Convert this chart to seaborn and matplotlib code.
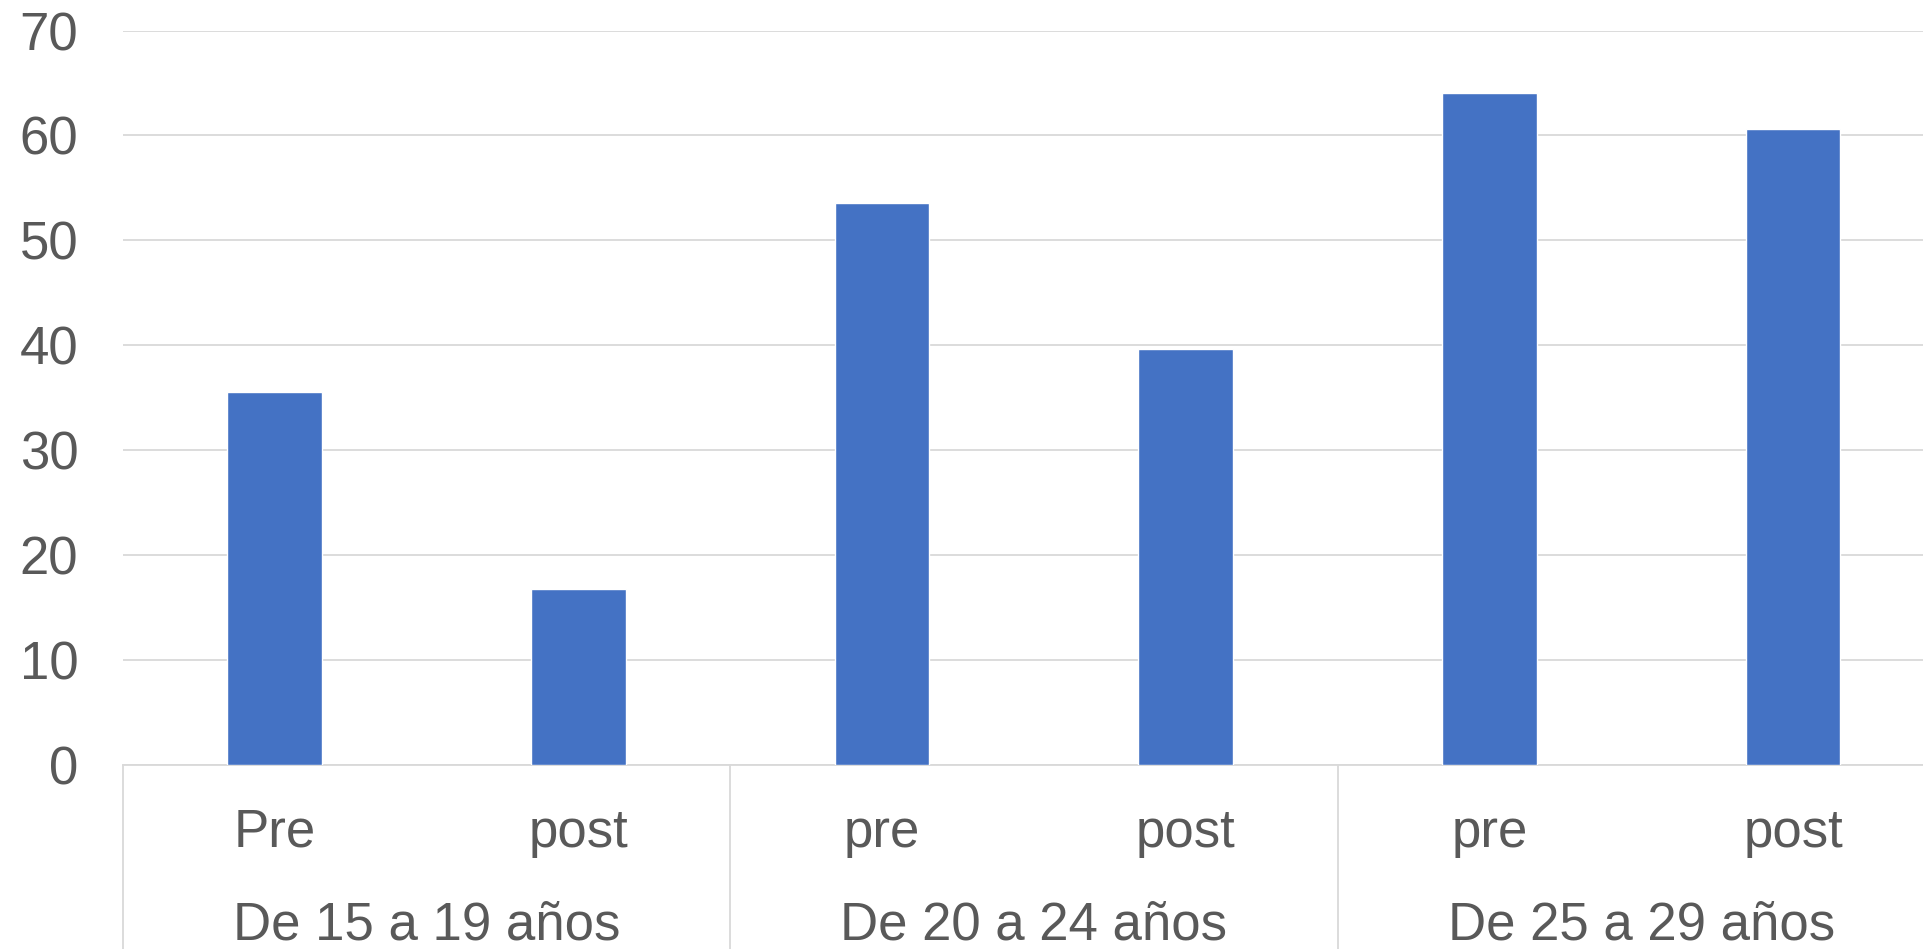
import matplotlib
matplotlib.use("Agg")
import matplotlib.pyplot as plt
import matplotlib.transforms as mtransforms
import seaborn as sns
import pandas as pd

# data
age_groups = ["De 15 a 19 años", "De 20 a 24 años", "De 25 a 29 años"]
phases = ["Pre", "post", "pre", "post", "pre", "post"]
values = [35.5, 16.7, 53.6, 39.6, 64.1, 60.6]
y_ticks = [0, 10, 20, 30, 40, 50, 60, 70]

BAR_COLOR = "#4472C4"
GRID_COLOR = "#D9D9D9"
TEXT_COLOR = "#595959"
FONT_SIZE = 38

sns.set_theme(style="white")
plt.rcParams["font.family"] = ["Liberation Sans", "DejaVu Sans"]

slots = [f"{age_groups[i // 2]}|{p}" for i, p in enumerate(phases)]
df = pd.DataFrame({"slot": slots, "value": values})

fig = plt.figure(figsize=(19.24, 9.49), dpi=100)
# axes runs past the right edge, the reference is cropped there
ax = fig.add_axes([0.0638, 0.1944, 0.9471, 0.7733])

sns.barplot(data=df, x="slot", y="value", order=slots, color=BAR_COLOR,
            width=0.312, saturation=1, ax=ax, zorder=3)

ax.set_xlim(-0.5, len(slots) - 0.5)
ax.set_ylim(0, 70)
ax.set_yticks(y_ticks)
ax.yaxis.grid(True, color=GRID_COLOR, linewidth=1.3, zorder=0)
ax.xaxis.grid(False)
ax.set_xlabel("")
ax.set_ylabel("")
ax.set_xticks(range(len(slots)))
ax.set_xticklabels([])
ax.tick_params(axis="y", length=0, pad=32, labelsize=FONT_SIZE, labelcolor=TEXT_COLOR)
ax.tick_params(axis="x", length=0)

for side in ["left", "right", "top"]:
    ax.spines[side].set_visible(False)
ax.spines["bottom"].set_color(GRID_COLOR)
ax.spines["bottom"].set_linewidth(1.3)

trans = mtransforms.blended_transform_factory(ax.transData, ax.transAxes)

# category labels
for i, p in enumerate(phases):
    ax.text(i, -0.112, p, transform=trans, ha="center", va="baseline",
            fontsize=FONT_SIZE, color=TEXT_COLOR, clip_on=False)

# group labels and separators
for g, name in enumerate(age_groups):
    ax.text(2 * g + 0.5, -0.239, name, transform=trans, ha="center", va="baseline",
            fontsize=FONT_SIZE, color=TEXT_COLOR, clip_on=False)
for xs in [-0.5, 1.5, 3.5, 5.5]:
    ax.plot([xs, xs], [0, -0.3], transform=trans, color=GRID_COLOR,
            linewidth=1.3, clip_on=False)

fig.savefig("out.png", dpi=100)
